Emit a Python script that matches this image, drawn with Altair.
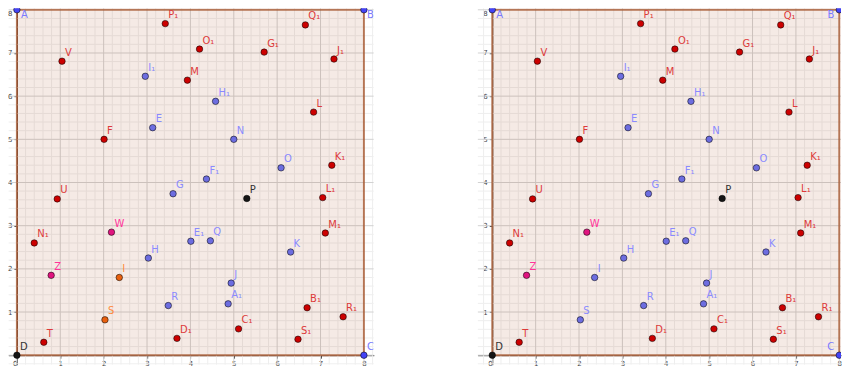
import altair as alt
import pandas as pd
import numpy as np

# ---- point data ----
point_names = ["A", "B", "C", "D", "P₁", "O₁", "Q₁", "G₁", "J₁", "V", "I₁", "M", "H₁", "L",
               "E", "F", "N", "O", "K₁", "F₁", "G", "U", "P", "L₁", "W", "M₁", "N₁", "E₁",
               "Q", "K", "H", "Z", "I", "J", "A₁", "R", "B₁", "R₁", "S", "C₁", "D₁", "S₁", "T"]
point_x = [0, 8, 8, 0, 3.42, 4.21, 6.65, 5.70, 7.31, 1.04, 2.96, 3.93, 4.58, 6.84,
           3.13, 2.01, 5.00, 6.09, 7.26, 4.37, 3.60, 0.93, 5.30, 7.05, 2.18, 7.11, 0.40, 4.01,
           4.46, 6.31, 3.03, 0.79, 2.36, 4.94, 4.87, 3.49, 6.69, 7.52, 2.03, 5.11, 3.69, 6.48, 0.62]
point_y = [8, 8, 0, 0, 7.68, 7.09, 7.65, 7.02, 6.86, 6.81, 6.46, 6.37, 5.88, 5.63,
           5.27, 5.00, 5.00, 4.34, 4.40, 4.08, 3.74, 3.62, 3.63, 3.65, 2.85, 2.83, 2.60, 2.64,
           2.65, 2.39, 2.25, 1.85, 1.80, 1.67, 1.19, 1.15, 1.10, 0.89, 0.82, 0.61, 0.39, 0.37, 0.30]
group_left = ["corner", "corner", "corner", "black", "red", "red", "red", "red", "red", "red", "blue", "red", "blue", "red",
              "blue", "red", "blue", "blue", "red", "blue", "blue", "red", "black", "red", "magenta", "red", "red", "blue",
              "blue", "blue", "blue", "magenta", "orange", "blue", "blue", "blue", "red", "red", "orange", "red", "red", "red", "red"]
group_right = ["corner", "corner", "corner", "black", "red", "red", "red", "red", "red", "red", "blue", "red", "blue", "red",
               "blue", "red", "blue", "blue", "red", "blue", "blue", "red", "black", "red", "magenta", "red", "red", "blue",
               "blue", "blue", "blue", "magenta", "blue", "blue", "blue", "blue", "red", "red", "blue", "red", "red", "red", "red"]

square_x = [0, 8]
square_y = [0, 8]
axis_x_ticks = [0, 1, 2, 3, 4, 5, 6, 7, 8]
axis_y_ticks = [1, 2, 3, 4, 5, 6, 7, 8]

# ---- styles ----
FILL = {"red": "#cc0000", "blue": "#6d6de0", "corner": "#4343f5", "magenta": "#e0147f",
        "orange": "#e8600f", "black": "#151515"}
LABEL = {"red": "#dd3a3a", "blue": "#8a8aff", "corner": "#7a7aff", "magenta": "#ff3399",
         "orange": "#ff8a3d", "black": "#333333"}

KX = 43.45
KY = 43.3
YMIN = -0.22
YMAX = 8 + 1.5 / KY
H = round((YMAX - YMIN) * KY)

minor_vals = [round(v / 5, 1) for v in range(-2, 42) if v % 5 != 0]
major_vals = list(range(0, 9))


def panel(groups, xmin, width, right_labels_inside):
    xmax = xmin + width / KX
    df = pd.DataFrame({"name": point_names, "x": point_x, "y": point_y, "grp": groups})
    df["fill"] = df["grp"].map(FILL)
    df["lab"] = df["grp"].map(LABEL)

    xs = alt.Scale(domain=[xmin, xmax], nice=False, zero=False)
    ys = alt.Scale(domain=[YMIN, YMAX], nice=False, zero=False)
    common = dict(title=None, grid=False, domainColor="#333333", domainWidth=1,
                  tickColor="#333333", tickSize=3, labelFontSize=7, labelColor="#444444",
                  labelFont="DejaVu Sans", labelOverlap=False, labelFlush=False)
    xa = alt.Axis(values=axis_x_ticks, offset=-(0 - YMIN) * KY, labelPadding=1,
                  labelAlign={"condition": {"test": "datum.value == 0", "value": "right"}, "value": "center"},
                  **common)
    ya = alt.Axis(values=axis_y_ticks, offset=-(0 - xmin) * KX, labelPadding=2,
                  labelBaseline={"condition": {"test": "datum.value == 8", "value": "top"}, "value": "middle"},
                  **common)

    def X(f):
        return alt.X(f, type="quantitative", scale=xs, axis=xa)

    def Y(f):
        return alt.Y(f, type="quantitative", scale=ys, axis=ya)

    vminor = [v for v in minor_vals if xmin < v < xmax]
    hminor = [v for v in minor_vals if YMIN <= v < YMAX]

    vmin_l = alt.Chart(pd.DataFrame({"v": vminor})).mark_rule(
        color="#eeeeee", strokeWidth=1, clip=True).encode(x=X("v"))
    hmin_l = alt.Chart(pd.DataFrame({"v": hminor})).mark_rule(
        color="#eeeeee", strokeWidth=1, clip=True).encode(y=Y("v"))
    vmaj_l = alt.Chart(pd.DataFrame({"v": major_vals})).mark_rule(
        color="#d2d2d2", strokeWidth=1, clip=True).encode(x=X("v"))
    hmaj_l = alt.Chart(pd.DataFrame({"v": major_vals})).mark_rule(
        color="#d2d2d2", strokeWidth=1, clip=True).encode(y=Y("v"))

    sq = alt.Chart(pd.DataFrame({"x0": [square_x[0]], "x1": [square_x[1]],
                                 "y0": [square_y[0]], "y1": [square_y[1]]})).mark_rect(
        fill="#993300", fillOpacity=0.1, stroke="#993300", strokeOpacity=0.6, strokeWidth=2,
        clip=True
    ).encode(x=X("x0"), x2="x1", y=Y("y0"), y2="y1")

    pts = alt.Chart(df).mark_circle(size=42, opacity=1, stroke="#000000", strokeWidth=0.8,
                                    strokeOpacity=0.65, clip=True).encode(
        x=X("x"), y=Y("y"), fill=alt.Fill("fill:N", scale=None))

    def T(f):
        return alt.Chart(df).transform_filter(f)

    enc = dict(x=X("x"), y=Y("y"), text="name:N", color=alt.Color("lab:N", scale=None))
    corner = ["A", "B", "C"]
    layers = [vmin_l, hmin_l, vmaj_l, hmaj_l, sq, pts]
    layers.append(T({"not": alt.FieldOneOfPredicate(field="name", oneOf=corner)}).mark_text(
        align="left", baseline="alphabetic", dx=3, dy=-5.5, fontSize=10,
        font="DejaVu Sans", clip=True).encode(**enc))
    layers.append(T(alt.FieldEqualPredicate(field="name", equal="A")).mark_text(
        align="left", baseline="middle", dx=4, dy=5, fontSize=10,
        font="DejaVu Sans", clip=True).encode(**enc))
    if right_labels_inside:
        layers.append(T(alt.FieldEqualPredicate(field="name", equal="B")).mark_text(
            align="right", baseline="middle", dx=-5, dy=5, fontSize=10,
            font="DejaVu Sans", clip=True).encode(**enc))
        layers.append(T(alt.FieldEqualPredicate(field="name", equal="C")).mark_text(
            align="right", baseline="alphabetic", dx=-5, dy=-5, fontSize=10,
            font="DejaVu Sans", clip=True).encode(**enc))
    else:
        layers.append(T(alt.FieldEqualPredicate(field="name", equal="B")).mark_text(
            align="left", baseline="middle", dx=3, dy=5, fontSize=10,
            font="DejaVu Sans", clip=True).encode(**enc))
        layers.append(T(alt.FieldEqualPredicate(field="name", equal="C")).mark_text(
            align="left", baseline="alphabetic", dx=3, dy=-5, fontSize=10,
            font="DejaVu Sans", clip=True).encode(**enc))

    return alt.layer(*layers).properties(width=width, height=H)


left = panel(group_left, -0.196, 366, False)
right = panel(group_right, -0.338, 364, True)

chart = alt.hconcat(left, right, spacing=104, bounds="flush").properties(
    padding={"top": 0, "left": -0.6, "right": 0, "bottom": 0}).configure_view(stroke=None)

chart.save("out.html", embed_options={"renderer": "svg", "actions": False})
